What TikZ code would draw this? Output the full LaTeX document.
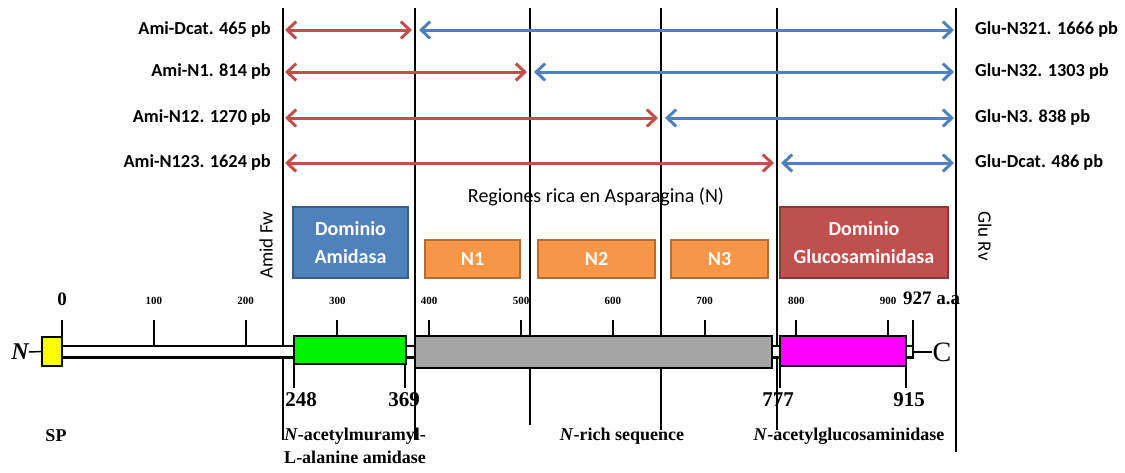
\documentclass[tikz,border=0pt]{standalone}
\usepackage{fontspec}
\setmainfont{Liberation Serif}
\newfontfamily\lblfont{Carlito}
\usetikzlibrary{arrows.meta}

\definecolor{amired}{HTML}{C0504D}
\definecolor{glublue}{HTML}{4F81BD}
\definecolor{amiblue}{HTML}{4F81BD}
\definecolor{amiblueline}{HTML}{385D8A}
\definecolor{nrange}{HTML}{F79646}
\definecolor{nrangeline}{HTML}{B66D31}
\definecolor{glured}{HTML}{C0504D}
\definecolor{gluredline}{HTML}{8C3836}
\definecolor{spyellow}{HTML}{FFFF00}
\definecolor{amigreen}{HTML}{00F000}
\definecolor{nrichgray}{HTML}{A6A6A6}
\definecolor{glumag}{HTML}{FF00FF}

\newcommand\pbstyle{\lblfont\bfseries\fontsize{18.3}{20}\selectfont}
\newcommand\primerstyle{\lblfont\fontsize{19}{21}\selectfont}
\newcommand\domstyle{\lblfont\bfseries\fontsize{20}{28}\selectfont}
\newcommand\aabig{\bfseries\fontsize{19}{21}\selectfont}
\newcommand\aalimit{\bfseries\fontsize{21}{23}\selectfont}
\newcommand\aasmall{\bfseries\fontsize{11}{12}\selectfont}
\newcommand\seqstyle{\bfseries\fontsize{18}{23}\selectfont}
\newcommand\aapos[1]{62 + #1 * 0.918}

\tikzset{
  divider/.style={line width=2pt},
  pbtip/.style={Straight Barb[length=9pt,width=17pt]},
  amiarrow/.style={amired, line width=3pt, {Straight Barb[length=9pt,width=17pt]}-{Straight Barb[length=9pt,width=17pt]}, shorten >=3pt, shorten <=2pt},
  gluarrow/.style={glublue, line width=3pt, {Straight Barb[length=9pt,width=17pt]}-{Straight Barb[length=9pt,width=17pt]}, shorten <=4pt, shorten >=2pt},
  pblabel/.style={font=\pbstyle, inner sep=0pt},
  dombox/.style={draw, line width=1.5pt, text=white, font=\domstyle, align=center, inner sep=0pt},
  seqbox/.style={draw=black, line width=2.2pt},
  tick/.style={line width=2pt},
}

\begin{document}
\begin{tikzpicture}[x=1pt,y=-1pt]
  \useasboundingbox (0,0) rectangle (1125,472);
  % dividers
  \foreach \name/\px/\bot in {dA/283/440, dB/415/440, dC/530/425, dD/661/430, dE/777/430, dF/956/452} {
    \coordinate (\name) at (\px,8);
    \coordinate (\name b) at (\px,\bot);
    \draw[divider] (\name) -- (\name b);
  }
  % fragments
  \foreach \i/\y/\mid/\lt/\rt in {1/30/dB/Ami-Dcat. 465 pb/Glu-N321. 1666 pb,
                                  2/72/dC/Ami-N1. 814 pb/Glu-N32. 1303 pb,
                                  3/118/dD/Ami-N12. 1270 pb/Glu-N3. 838 pb,
                                  4/163/dE/Ami-N123. 1624 pb/Glu-Dcat. 486 pb} {
    \node[pblabel, anchor=east] (ami\i) at (271,\y) {\lt};
    \node[pblabel, anchor=west] (glu\i) at (975,\y) {\rt};
    \draw[amiarrow] (dA |- ami\i) -- (\mid |- ami\i);
    \draw[gluarrow] (\mid |- ami\i) -- (dF |- ami\i);
  }
  \node[font=\lblfont\fontsize{20}{22}\selectfont] (nreg) at (596,197) {Regiones rica en Asparagina (N)};
  \node[font=\primerstyle, inner sep=0pt, rotate=90] (amifw) at (266,245) {Amid Fw};
  \node[font=\primerstyle, inner sep=0pt, rotate=-90] (glurv) at (985,236) {Glu Rv};
  % domains
  \node[dombox, fill=amiblue, draw=amiblueline, minimum width=115pt, minimum height=71pt] (domami) at (350.5,242.5) {Dominio\\Amidasa};
  \node[dombox, fill=nrange, draw=nrangeline, minimum width=95pt, minimum height=38pt] (n1) at (472.5,259) {N1};
  \node[dombox, fill=nrange, draw=nrangeline, minimum width=117pt, minimum height=38pt] (n2) at (596.5,259) {N2};
  \node[dombox, fill=nrange, draw=nrangeline, minimum width=97pt, minimum height=38pt] (n3) at (719.5,259) {N3};
  \node[dombox, fill=glured, draw=gluredline, minimum width=168pt, minimum height=71pt] (domglu) at (864,242.5) {Dominio\\Glucosaminidasa};
  % scale
  \foreach \aa/\lab in {100/100, 200/200, 300/300, 400/400, 500/500, 600/600, 700/700, 800/800, 900/900} {
    \node[font=\aasmall] (lab\aa) at ({\aapos{\aa}},301) {\lab};
    \draw[tick] ({\aapos{\aa}},320) -- ({\aapos{\aa}},346);
  }
  \node[font=\aabig] (lab0) at (62,299) {0};
  \draw[tick] (62,320) -- (62,340);
  \node[font=\aabig, anchor=west, inner sep=0pt] (lab927) at (903,298) {927 a.a};
  \draw[tick] (913,320) -- (913,346);
  % protein
  \draw[line width=2.2pt, fill=white] (62,346) rectangle (913,357.5);
  \node[seqbox, fill=spyellow, minimum width=20pt, minimum height=29pt, inner sep=0pt] (sp) at (52,351.5) {};
  \node[seqbox, fill=amigreen, minimum width=112pt, minimum height=28pt, inner sep=0pt] (amid) at (350,350) {};
  \node[seqbox, fill=nrichgray, minimum width=357pt, minimum height=32pt, inner sep=0pt] (nrich) at (593.5,352) {};
  \node[seqbox, fill=glumag, minimum width=126pt, minimum height=30pt, inner sep=0pt] (gluc) at (843,351) {};
  \node[font=\bfseries\itshape\fontsize{24}{26}\selectfont, inner sep=0pt] (nterm) at (20,352) {N};
  \draw[line width=1.5pt] (nterm.east) -- (sp.west);
  \node[font=\fontsize{28}{30}\selectfont, inner sep=0pt] (cterm) at (942,352) {C};
  \draw[line width=1.5pt] (913,352) -- (cterm.west);
  % limits
  \foreach \aa/\px/\lx in {248/294/301, 369/405/404, 777/780/778, 915/906/909} {
    \draw[tick] (\px,364) -- (\px,388);
    \node[font=\aalimit] (pos\aa) at (\lx,400) {\aa};
  }
  \node[font=\seqstyle] (sptxt) at (56,436) {SP};
  \node[font=\seqstyle, align=center] (amitxt) at (355,446) {\textit{N}-acetylmuramyl-\\L-alanine amidase};
  \node[font=\seqstyle] (nrichtxt) at (622,436) {\textit{N}-rich sequence};
  \node[font=\seqstyle] (glutxt) at (849,436) {\textit{N}-acetylglucosaminidase};
\end{tikzpicture}
\end{document}
